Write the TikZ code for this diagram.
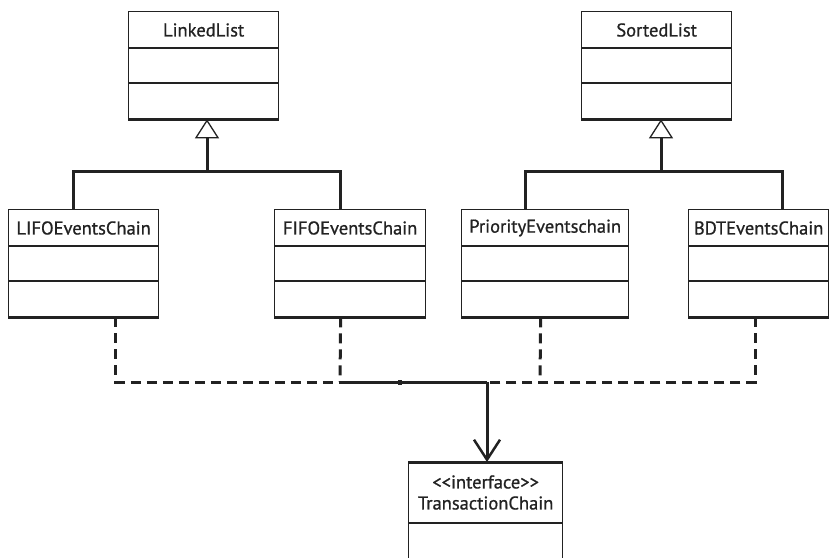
\documentclass[tikz,border=0pt]{standalone}
\usepackage{fontspec}
\setmainfont{PT Sans}
\newfontfamily\umlfont[FakeBold=0.8]{PT Sans}
\usetikzlibrary{arrows.meta}
\definecolor{ink}{HTML}{222222}
\tikzset{
  classbox/.style={draw=ink, line width=1.3pt, inner sep=0pt, anchor=north west},
  divider/.style={draw=ink, line width=1.3pt},
  baseline edge/.style={draw=ink, line width=3pt},
  cname/.style={font=\umlfont\fontsize{18.5}{20}\selectfont, text=ink, inner sep=0pt},
  solidline/.style={draw=ink, line width=3pt},
  dashline/.style={draw=ink, line width=3pt, dash pattern=on 10pt off 6pt},
  gentip/.style={-{Triangle[open, length=19pt, width=24pt, line width=1.3pt]}},
  realtip/.style={-{Straight Barb[length=20pt, width=26pt, line width=2.5pt]}}
}
\newcommand{\umlclass}[6]{% name, x, y, width, height, text
  \node[classbox, minimum width=#4pt, minimum height=#5pt] (#1) at (#2,#3) {};
  \draw[divider] ([yshift=-37pt]#1.north west) -- ([yshift=-37pt]#1.north east);
  \draw[divider] ([yshift=-72pt]#1.north west) -- ([yshift=-72pt]#1.north east);
  \draw[baseline edge] (#1.south west) -- (#1.south east);
  \node[cname] (#1-t) at ([yshift=-19pt]#1.north) {#6};
}
\begin{document}
\begin{tikzpicture}[x=1pt,y=-1pt]
\useasboundingbox[fill=white] (0,0) rectangle (830,557);

\umlclass{ll}{128}{11}{150}{107}{LinkedList}
\umlclass{sl}{581}{11}{150}{107}{SortedList}
\umlclass{lifo}{8}{209}{150}{107}{LIFOEventsChain}
\umlclass{fifo}{274}{209}{151}{107}{FIFOEventsChain}
\umlclass{prio}{461}{209}{167}{107}{PriorityEventschain}
\umlclass{bdt}{688}{209}{140}{107}{BDTEventsChain}

% interface
\node[classbox, minimum width=154pt, minimum height=130pt] (iface) at (408,462) {};
\draw[baseline edge] (iface.north west) -- (iface.north east);
\draw[divider] ([yshift=-61pt]iface.north west) -- ([yshift=-61pt]iface.north east);
\node[cname] (iface-s) at ([yshift=-20pt]iface.north) {{<}{<}interface{>}{>}};
\node[cname] (iface-t) at ([yshift=-41pt]iface.north) {TransactionChain};

% generalisation LinkedList
\coordinate (jl) at (207,171);
\draw[solidline] ([xshift=-10pt]lifo.north) |- (jl) -| ([xshift=-9.5pt]fifo.north);
\draw[solidline, gentip] (jl) -- (ll.south -| jl);

% generalisation SortedList
\coordinate (js) at (661,171);
\draw[solidline] ([xshift=-19.5pt]prio.north) |- (js) -| ([xshift=24pt]bdt.north);
\draw[solidline, gentip] (js) -- (sl.south -| js);

% realisation
\coordinate (bus) at (487,382);
\coordinate (bf) at (340,382);
\coordinate (bp) at (540,382);
\draw[dashline] ([xshift=32pt]lifo.south) |- (bf);
\draw[dashline] ([xshift=-9.5pt]fifo.south) -- (bf);
\draw[solidline] (bf) -- (bus);
\draw[dashline] ([xshift=-4.5pt]prio.south) -- (bp);
\draw[dashline] ([xshift=-3pt]bdt.south) |- (bus);
\fill[ink] (398,379.5) rectangle (402,384.5);
\draw[solidline, realtip] (bus) -- (iface.north -| bus);
\end{tikzpicture}
\end{document}
